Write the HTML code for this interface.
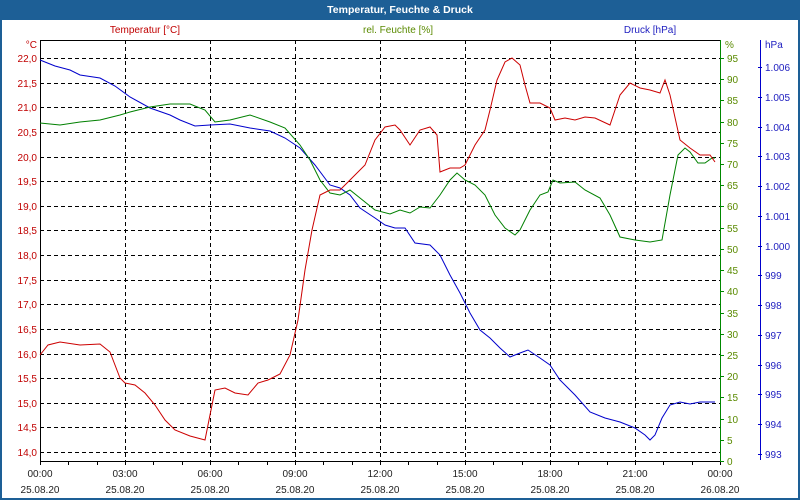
<!DOCTYPE html>
<html><head><meta charset="utf-8"><style>
html,body{margin:0;padding:0;background:#fff}
svg{display:block}
text{font-family:"Liberation Sans",sans-serif;font-size:10px}
</style></head><body>
<svg width="800" height="500" xmlns="http://www.w3.org/2000/svg">
<rect x="0" y="0" width="800" height="500" fill="#1d5f96"/>
<rect x="2" y="20" width="796" height="478" fill="#fff"/>
<text x="400" y="13" text-anchor="middle" fill="#fff" font-weight="bold" style="font-size:10.5px">Temperatur, Feuchte &amp; Druck</text>
<text x="145" y="33" text-anchor="middle" fill="#c00000">Temperatur [°C]</text>
<text x="398" y="33" text-anchor="middle" fill="#5a8a00">rel. Feuchte [%]</text>
<text x="650" y="33" text-anchor="middle" fill="#2020c0">Druck [hPa]</text>
<g id="grid" stroke="#000" stroke-dasharray="4,3" stroke-width="1"></g>
<g id="labels"></g>
<line x1="40" y1="40.5" x2="720" y2="40.5" stroke="#000"/>
<line x1="40.5" y1="40" x2="40.5" y2="461" stroke="#000"/>
<line x1="40" y1="461.5" x2="720" y2="461.5" stroke="#000"/>
<line x1="720.5" y1="40" x2="720.5" y2="462" stroke="#080"/>
<line x1="760.5" y1="40" x2="760.5" y2="460" stroke="#00c"/>
<polyline fill="none" stroke="#0000cc" stroke-width="1" points="40,60 55,66 70,70 80,75 100,78 115,86 130,97 150,108 170,115 180,120 195,126 210,125 230,124 250,128 270,131 285,138 300,148 315,165 330,185 340,188 350,195 360,208 375,218 385,225 395,228 405,228 415,243 430,245 440,255 450,275 460,293 470,313 480,330 490,338 500,348 510,357 520,353 528,350 540,358 550,365 560,380 575,395 590,412 605,418 620,422 635,428 645,435 650,440 655,435 662,418 670,405 680,402 690,404 700,402 715,402"/>
<polyline fill="none" stroke="#008000" stroke-width="1" points="40,123 60,125 80,122 100,120 120,115 130,112 150,107 170,104 190,104 205,110 215,122 230,120 250,115 270,122 285,128 300,145 310,160 320,180 330,193 340,195 350,190 360,198 375,210 390,214 400,210 410,213 420,207 430,208 440,195 450,180 457,173 465,180 475,185 485,195 495,215 505,228 515,235 520,230 530,210 540,195 548,192 553,180 560,183 575,182 585,190 600,198 610,215 620,237 635,240 650,242 662,240 670,195 678,155 685,148 690,152 698,163 705,163 712,158 715,158"/>
<polyline fill="none" stroke="#cc0000" stroke-width="1" points="40,355 48,345 60,342 80,345 100,344 110,352 120,378 125,383 135,385 145,393 155,405 165,420 175,430 190,436 205,440 208,425 215,390 225,388 235,393 248,395 258,383 268,380 280,374 290,355 298,320 305,270 312,230 320,195 330,190 340,190 350,180 365,165 375,140 385,127 395,125 400,130 410,145 420,130 430,127 437,135 440,172 450,168 460,168 465,165 475,145 485,130 490,110 497,80 505,62 512,58 520,65 525,85 530,103 540,103 550,108 555,120 565,118 575,120 585,117 595,118 610,125 620,95 630,83 640,88 650,90 660,93 665,80 670,95 680,140 690,148 700,155 710,155 715,162"/>
<text x="37" y="48" text-anchor="end" fill="#c00000">°C</text>
<text x="725" y="48" fill="#5a8a00">%</text>
<text x="765" y="48" fill="#2020c0">hPa</text>
</svg>
<script>
(function(){
var ns="http://www.w3.org/2000/svg",svg=document.querySelector('svg'),g=document.getElementById('grid'),L=document.getElementById('labels');
function el(p,t,a,txt){var e=document.createElementNS(ns,t);for(var k in a)e.setAttribute(k,a[k]);if(txt!=null)e.textContent=txt;p.appendChild(e);return e;}
for(var k=0;k<=16;k++){var y=Math.round(58+24.625*k)+0.5;el(g,'line',{x1:40,y1:y,x2:720,y2:y});
 var T=(22-k*0.5).toFixed(1).replace('.',',');el(L,'text',{x:37,y:y+3.5,'text-anchor':'end',fill:'#c00000'},T);}
for(var k=1;k<8;k++){var x=40+85*k+0.5;el(g,'line',{x1:x,y1:40,x2:x,y2:461});}
for(var h=0;h<=24;h++){var x=Math.round(40+h*85/3)+0.5;el(L,'line',{x1:x,y1:461,x2:x,y2:465,stroke:'#000'});}
for(var k=0;k<=8;k++){var x=40+85*k;var hh=(k*3)%24;var s=(hh<10?'0':'')+hh+':00';
 el(L,'text',{x:x,y:477,'text-anchor':'middle',fill:'#222'},s);
 el(L,'text',{x:x,y:493,'text-anchor':'middle',fill:'#222'},k==8?'26.08.20':'25.08.20');}
for(var v=0;v<=95;v+=5){var y=Math.round(461-v*4.242)+0.5;el(L,'line',{x1:720,y1:y,x2:724,y2:y,stroke:'#080'});
 el(L,'text',{x:727,y:y+3.5,fill:'#5a8a00'},String(v));}
for(var i=0;i<=13;i++){var p=1006-i;var y=Math.round(67+i*29.77)+0.5;el(L,'line',{x1:758,y1:y,x2:762,y2:y,stroke:'#00c'});
 el(L,'text',{x:765,y:y+3.5,fill:'#2020c0'},p>=1000?('1.00'+(p-1000)):String(p));}
})();
</script>
</body></html>
